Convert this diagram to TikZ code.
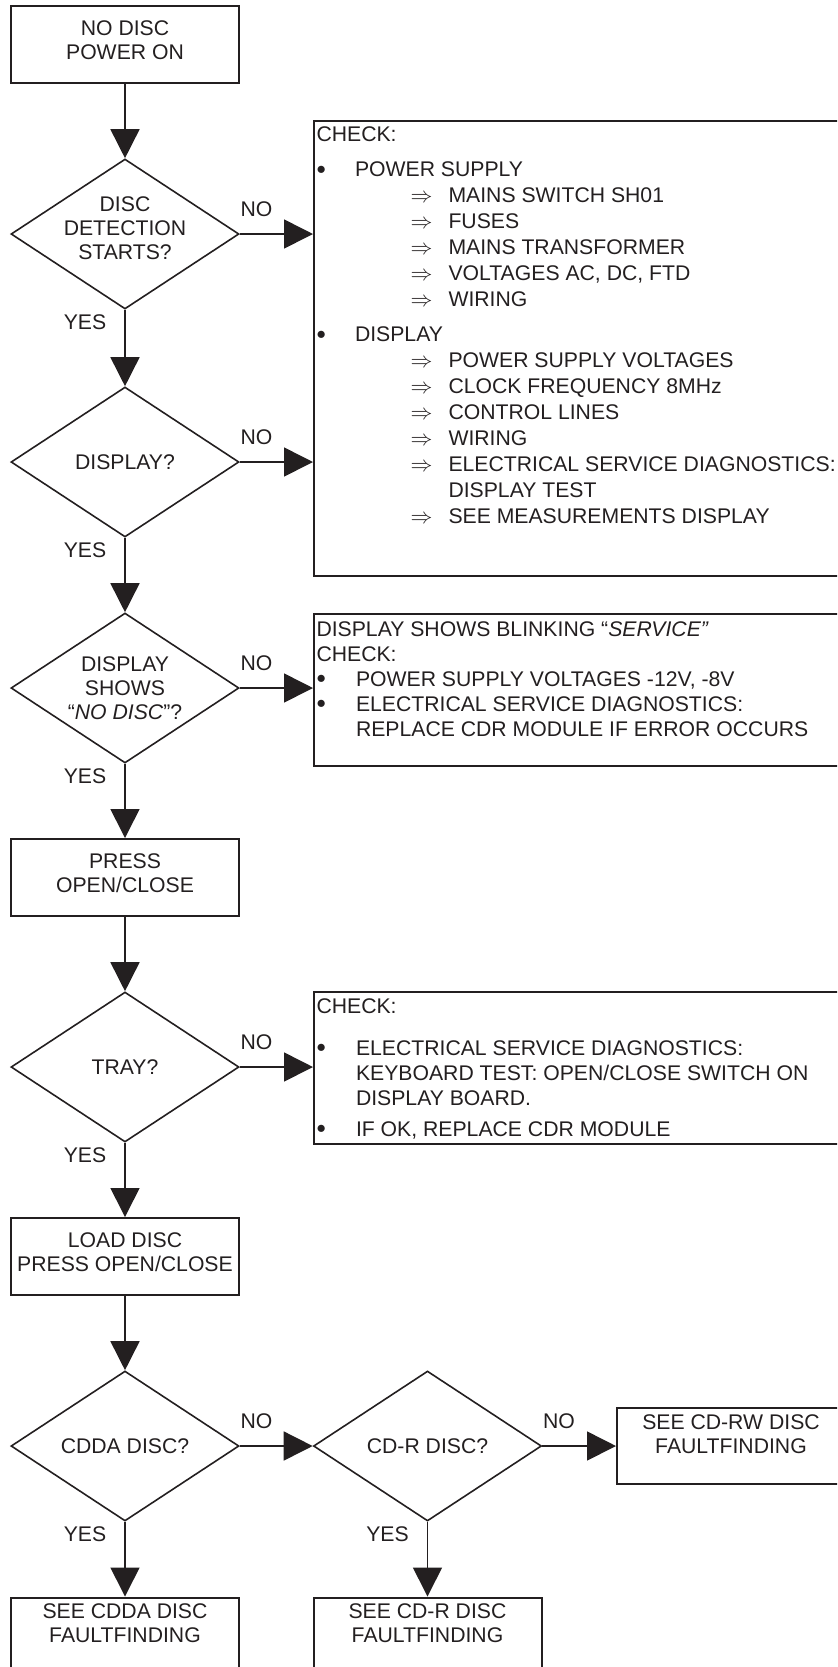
\documentclass[tikz,border=0pt]{standalone}
\usepackage{fontspec}
\usepackage{graphicx}
\setmainfont{Liberation Sans}
\usetikzlibrary{shapes.geometric,arrows.meta,positioning}
\definecolor{ink}{RGB}{35,31,32}
\newcommand{\listdot}{\raisebox{1.4pt}{\scalebox{0.85}{$\bullet$}}}

\begin{document}
\begin{tikzpicture}[%
	    x=0.5pt, y=-0.5pt,
	    >={Triangle[length=14.5pt,width=14.5pt]},
	    node distance=94.75pt,
	    color=ink,
	    line width=0.8pt,
	    font=\fontsize{10.6pt}{12pt}\selectfont,
	    process/.style={rectangle, draw, line width=1pt, minimum width=114pt, minimum height=38.5pt, inner sep=0pt, text depth=4.5pt, align=center},
	    endbox/.style={rectangle, draw, line width=1pt, minimum width=114pt, minimum height=38pt, inner sep=0pt, align=center},
	    decision/.style={diamond, draw, shape aspect=1.52, minimum width=114pt, minimum height=75pt, inner sep=0pt, align=center},
	    lifted/.style={text depth=6pt, inner xsep=-4pt},
	    checkbox/.style={rectangle, draw, line width=1pt, anchor=north west, inner xsep=1.25pt, inner ysep=0pt},
	    nolabel/.style={pos=0, anchor=base west, yshift=8.75pt, inner sep=0pt},
	    yeslabel/.style={pos=0, anchor=base east, xshift=-9pt, yshift=-10pt, inner sep=0pt}
	  ]

	  \useasboundingbox (0,0) rectangle (837,1667);
	  \clip (0,0) rectangle (837,1667);

	  % main column
	  \node[process] (start) at (125,44.5) {NO DISC\\POWER ON};
	  \node[decision, lifted] (detect) [below of=start] {DISC\\DETECTION\\STARTS?};
	  \node[decision] (display) [below of=detect, node distance=114pt] {DISPLAY?};
	  \node[decision] (nodisc) [below of=display, node distance=113pt] {DISPLAY\\SHOWS\\“\textit{NO DISC}”?};
	  \node[process] (press) [below of=nodisc] {PRESS\\OPEN/CLOSE};
	  \node[decision] (tray) [below of=press] {TRAY?};
	  \node[process] (load) [below of=tray] {LOAD DISC\\PRESS OPEN/CLOSE};
	  \node[decision] (cdda) [below of=load] {CDDA DISC?};
	  \node[endbox] (seecdda) [below of=cdda] {SEE CDDA DISC\\FAULTFINDING\\\mbox{}};
	  \node[decision] (cdr) [right of=cdda, node distance=151.25pt] {CD-R DISC?};
	  \node[endbox] (seecdr) [below of=cdr] {SEE CD-R DISC\\FAULTFINDING\\\mbox{}};
	  \node[endbox] (seecdrw) [right of=cdr, node distance=151.75pt] {SEE CD-RW DISC\\FAULTFINDING\\\mbox{}};

	  % check lists
	  \node[checkbox] (checkpower) at (313,120) {\parbox[c][227.5pt][t]{268pt}{\fontsize{10.6pt}{13pt}\selectfont
	    \vspace*{2.75pt}
	    CHECK:\\[4.75pt]
	    \makebox[19.25pt][l]{\listdot}POWER SUPPLY\\
	    \hspace*{47pt}\makebox[19pt][l]{$\Rightarrow$}MAINS SWITCH SH01\\
	    \hspace*{47pt}\makebox[19pt][l]{$\Rightarrow$}FUSES\\
	    \hspace*{47pt}\makebox[19pt][l]{$\Rightarrow$}MAINS TRANSFORMER\\
	    \hspace*{47pt}\makebox[19pt][l]{$\Rightarrow$}VOLTAGES AC, DC, FTD\\
	    \hspace*{47pt}\makebox[19pt][l]{$\Rightarrow$}WIRING\\[4.5pt]
	    \makebox[19.25pt][l]{\listdot}DISPLAY\\
	    \hspace*{47pt}\makebox[19pt][l]{$\Rightarrow$}POWER SUPPLY VOLTAGES\\
	    \hspace*{47pt}\makebox[19pt][l]{$\Rightarrow$}CLOCK FREQUENCY 8MHz\\
	    \hspace*{47pt}\makebox[19pt][l]{$\Rightarrow$}CONTROL LINES\\
	    \hspace*{47pt}\makebox[19pt][l]{$\Rightarrow$}WIRING\\
	    \hspace*{47pt}\makebox[19pt][l]{$\Rightarrow$}ELECTRICAL SERVICE DIAGNOSTICS:\\
	    \hspace*{66pt}DISPLAY TEST\\
	    \hspace*{47pt}\makebox[19pt][l]{$\Rightarrow$}SEE MEASUREMENTS DISPLAY}};
	  \node[checkbox] (checkservice) at (313,613) {\parbox[c][76pt][t]{268pt}{\fontsize{10.6pt}{12.5pt}\selectfont
	    \vspace*{3.75pt}
	    DISPLAY SHOWS BLINKING “\textit{SERVICE”}\\
	    CHECK:\\
	    \makebox[19.75pt][l]{\listdot}POWER SUPPLY VOLTAGES -12V, -8V\\
	    \makebox[19.75pt][l]{\listdot}ELECTRICAL SERVICE DIAGNOSTICS:\\
	    \hspace*{19.75pt}REPLACE CDR MODULE IF ERROR OCCURS}};
	  \node[checkbox] (checktray) at (313,991) {\parbox[c][76pt][t]{268pt}{\fontsize{10.6pt}{12.5pt}\selectfont
	    \vspace*{3.25pt}
	    CHECK:\\[8.5pt]
	    \makebox[19.75pt][l]{\listdot}ELECTRICAL SERVICE DIAGNOSTICS:\\
	    \hspace*{19.75pt}KEYBOARD TEST: OPEN/CLOSE SWITCH ON\\
	    \hspace*{19.75pt}DISPLAY BOARD.\\[3pt]
	    \makebox[19.75pt][l]{\listdot}IF OK, REPLACE CDR MODULE}};

	  \path[->]
	      (start)
		  edge (detect)
	      (detect)
		  edge node[yeslabel] (yes1) {YES} (display)
		  edge node[nolabel] (no1) {NO} (detect.east -| checkpower.west)
	      (display)
		  edge node[yeslabel] (yes2) {YES} (nodisc)
		  edge node[nolabel] (no2) {NO} (display.east -| checkpower.west)
	      (nodisc)
		  edge node[yeslabel] (yes3) {YES} (press)
		  edge node[nolabel] (no3) {NO} (nodisc.east -| checkservice.west)
	      (press)
		  edge (tray)
	      (tray)
		  edge node[yeslabel] (yes4) {YES} (load)
		  edge node[nolabel] (no4) {NO} (tray.east -| checktray.west)
	      (load)
		  edge (cdda)
	      (cdda)
		  edge node[yeslabel] (yes5) {YES} (seecdda)
		  edge node[nolabel] (no5) {NO} (cdr)
	      (cdr)
		  edge node[yeslabel] (yes6) {YES} (seecdr)
		  edge node[nolabel] (no6) {NO} (seecdrw);

\end{tikzpicture}
\end{document}
